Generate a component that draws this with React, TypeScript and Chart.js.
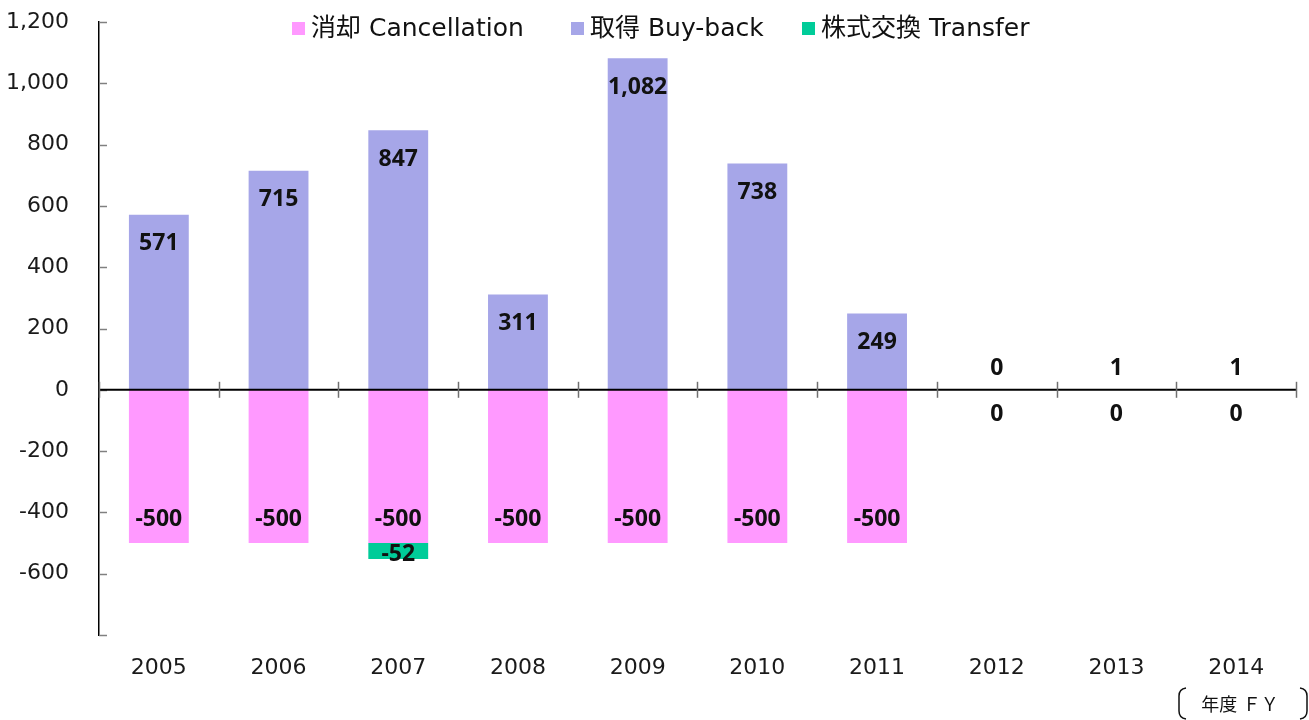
import React, { useEffect, useRef } from "react";
import { Chart, registerables } from "chart.js";

Chart.register(...registerables);

const categories = ["2005", "2006", "2007", "2008", "2009", "2010", "2011", "2012", "2013", "2014"];
const cancellation = [-500, -500, -500, -500, -500, -500, -500, 0, 0, 0];
const buyback = [571, 715, 847, 311, 1082, 738, 249, 0, 1, 1];
const transfer: (number | null)[] = [null, null, -52, null, null, null, null, null, null, null];

const seriesNames = ["消却 Cancellation", "取得 Buy-back", "株式交換 Transfer"];
const seriesColors = ["#FF99FF", "#A6A6E8", "#00CC99"];
const legendX = [292, 571, 802];

const Y_MIN = -800;
const Y_MAX = 1200;
const Y_STEP = 200;

const LATIN = '"DejaVu Sans", "Noto Sans CJK JP", sans-serif';
const LABEL_FONT = 'bold 23px "Noto Sans", "Noto Sans CJK JP", sans-serif';

const fmt = (v: number) => v.toLocaleString("en-US");

const decorPlugin = {
  id: "decor",
  afterDatasetsDraw(chart: any) {
    const ctx = chart.ctx;
    const area = chart.chartArea;
    const xs = chart.scales.x;
    const ys = chart.scales.y;
    const zeroY = ys.getPixelForValue(0);
    ctx.save();
    // y inside ticks
    ctx.strokeStyle = "#808080";
    ctx.lineWidth = 1.5;
    for (let v = Y_MIN; v <= Y_MAX; v += Y_STEP) {
      const py = Math.round(ys.getPixelForValue(v)) + 0.5;
      ctx.beginPath();
      ctx.moveTo(area.left, py);
      ctx.lineTo(area.left + 8, py);
      ctx.stroke();
    }
    // zero line
    ctx.strokeStyle = "#000000";
    ctx.lineWidth = 2;
    ctx.beginPath();
    ctx.moveTo(area.left, zeroY);
    ctx.lineTo(area.right, zeroY);
    ctx.stroke();
    // category boundary ticks
    ctx.strokeStyle = "#707070";
    ctx.lineWidth = 1.5;
    const n = categories.length;
    const w = (xs.getPixelForValue(1) - xs.getPixelForValue(0));
    for (let i = 0; i <= n; i++) {
      const px = Math.round(xs.getPixelForValue(0) - w / 2 + i * w) + 0.5;
      ctx.beginPath();
      ctx.moveTo(px, zeroY - 8);
      ctx.lineTo(px, zeroY + 8);
      ctx.stroke();
    }
    // data labels
    ctx.font = LABEL_FONT;
    ctx.fillStyle = "#111111";
    ctx.textAlign = "center";
    ctx.textBaseline = "middle";
    chart.data.datasets.forEach((ds: any, di: number) => {
      const meta = chart.getDatasetMeta(di);
      meta.data.forEach((el: any, i: number) => {
        const v = ds.data[i];
        if (v === null || v === undefined) return;
        let ly: number;
        if (di === 2) {
          ly = (el.y + el.base) / 2 + 3;
        } else if (di === 1) {
          const h = el.base - el.y;
          ly = h < 45 ? el.y - 21 : el.y + 29;
        } else {
          const h = el.y - el.base;
          ly = h < 45 ? el.y + 25 : el.y - 24;
        }
        ctx.fillText(fmt(v), el.x, ly);
      });
    });
    ctx.restore();
  },
  afterDraw(chart: any) {
    const ctx = chart.ctx;
    ctx.save();
    // legend
    ctx.textBaseline = "middle";
    ctx.textAlign = "left";
    ctx.font = `25px ${LATIN}`;
    seriesNames.forEach((name, i) => {
      const x = legendX[i];
      ctx.fillStyle = seriesColors[i];
      ctx.fillRect(x, 22, 13, 13);
      ctx.fillStyle = "#111111";
      ctx.fillText(name, x + 19, 29);
    });
    // FY label
    ctx.font = `18px ${LATIN}`;
    ctx.textAlign = "center";
    ctx.fillStyle = "#111111";
    ctx.fillText("年度 ＦＹ", 1240, 706);
    ctx.strokeStyle = "#111111";
    ctx.lineWidth = 1.5;
    ctx.beginPath();
    ctx.moveTo(1186, 688);
    ctx.quadraticCurveTo(1179, 689, 1179, 696);
    ctx.lineTo(1179, 711);
    ctx.quadraticCurveTo(1179, 718, 1186, 719);
    ctx.stroke();
    ctx.beginPath();
    ctx.moveTo(1300, 688);
    ctx.quadraticCurveTo(1307, 689, 1307, 696);
    ctx.lineTo(1307, 711);
    ctx.quadraticCurveTo(1307, 718, 1300, 719);
    ctx.stroke();
    ctx.restore();
  },
};

export default function App() {
  const ref = useRef<HTMLCanvasElement | null>(null);
  useEffect(() => {
    document.body.style.margin = "0";
    if (!ref.current) return;
    const chart = new Chart(ref.current, {
      type: "bar",
      data: {
        labels: categories,
        datasets: [
          { label: seriesNames[0], data: cancellation, backgroundColor: seriesColors[0], borderWidth: 0 },
          { label: seriesNames[1], data: buyback, backgroundColor: seriesColors[1], borderWidth: 0 },
          { label: seriesNames[2], data: transfer as any, backgroundColor: seriesColors[2], borderWidth: 0 },
        ],
      },
      options: {
        animation: false,
        responsive: true,
        maintainAspectRatio: false,
        layout: { padding: { top: 22, right: 13, left: 0, bottom: 0 } },
        datasets: { bar: { categoryPercentage: 1, barPercentage: 0.5 } },
        plugins: { legend: { display: false }, tooltip: { enabled: false } },
        scales: {
          x: {
            stacked: true,
            grid: { display: false, drawTicks: false },
            border: { display: false },
            ticks: { font: { family: LATIN, size: 22 }, color: "#1a1a1a", padding: 20 },
            afterFit: (s: any) => {
              s.height = 85;
              s.paddingTop = 0;
              s.paddingBottom = 0;
              s.paddingLeft = 0;
              s.paddingRight = 0;
            },
          },
          y: {
            stacked: true,
            min: Y_MIN,
            max: Y_MAX,
            grid: { display: false, drawTicks: false },
            border: { display: true, color: "#000000", width: 1.5 },
            ticks: {
              stepSize: Y_STEP,
              font: { family: LATIN, size: 22 },
              color: "#1a1a1a",
              padding: 30,
              callback: (v: any) => (v === Y_MIN ? "" : fmt(Number(v))),
            },
            afterFit: (s: any) => {
              s.width = 99;
              s.paddingTop = 0;
              s.paddingBottom = 0;
            },
          },
        },
      },
      plugins: [decorPlugin],
    });
    return () => chart.destroy();
  }, []);
  return (
    <div style={{ width: "1309px", height: "720px", position: "relative" }}>
      <canvas ref={ref} />
    </div>
  );
}
